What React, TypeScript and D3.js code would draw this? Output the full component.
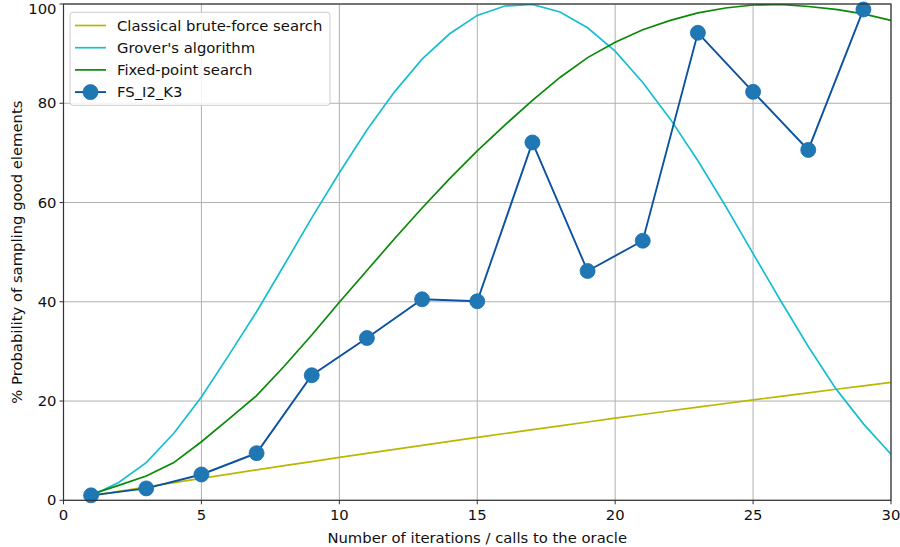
import React from "react";
import * as d3 from "d3";

const iterations = d3.range(1, 31);
const classical = [0.90, 1.79, 2.68, 3.55, 4.42, 5.28, 6.13, 6.97, 7.81, 8.64, 9.46, 10.27, 11.08, 11.88, 12.67, 13.46, 14.24, 15.01, 15.78, 16.54, 17.29, 18.04, 18.77, 19.50, 20.23, 20.95, 21.66, 22.37, 23.07, 23.76];
const grover = [0.9, 3.6, 7.6, 13.5, 20.8, 29.3, 38.0, 47.4, 56.9, 66.0, 74.6, 82.3, 88.9, 94.0, 97.7, 99.6, 99.9, 98.4, 95.2, 90.5, 84.2, 76.8, 68.4, 59.3, 49.7, 40.2, 31.0, 22.5, 15.4, 9.3];
const fixedPoint = [1.2, 3.0, 4.9, 7.6, 11.8, 16.4, 21.1, 27.0, 33.3, 39.9, 46.3, 52.7, 58.9, 64.8, 70.4, 75.6, 80.6, 85.2, 89.2, 92.3, 94.8, 96.7, 98.2, 99.2, 99.8, 99.9, 99.5, 98.9, 98.0, 96.7];
const fsIters = [1, 3, 5, 7, 9, 11, 13, 15, 17, 19, 21, 23, 25, 27, 29];
const fsValues = [1.0, 2.4, 5.2, 9.5, 25.2, 32.7, 40.5, 40.1, 72.1, 46.2, 52.3, 94.2, 82.3, 70.6, 98.9];
const xTicks = [0, 5, 10, 15, 20, 25, 30];
const yTicks = [0, 20, 40, 60, 80, 100];
const legendLabels = ["Classical brute-force search", "Grover's algorithm", "Fixed-point search", "FS_I2_K3"];

const W = 900, H = 547;
const L = 63.5, R = 891, T = 4, B = 500.3;
const FONT = "DejaVu Sans, sans-serif";
const FS = 14.8;

export default function App() {
  const x = d3.scaleLinear().domain([0, 30]).range([L, R]);
  const y = d3.scaleLinear().domain([0, 100]).range([B, T]);
  const line = d3.line<[number, number]>().x(d => x(d[0])).y(d => y(d[1]));
  const mk = (vals: number[], xs: number[]) => line(xs.map((xi, i) => [xi, vals[i]] as [number, number])) || "";

  const curves = [
    { vals: classical, color: "#b8b800" },
    { vals: grover, color: "#17becf" },
    { vals: fixedPoint, color: "#078a07" },
  ];
  const blueLine = "#0b52a1";
  const blueFill = "#1f77b4";

  return (
    <svg width={W} height={H} style={{ position: "absolute", left: 0, top: 0, background: "#fff" }} fontFamily={FONT}>
      <defs>
        <clipPath id="plot"><rect x={L} y={T} width={R - L} height={B - T} /></clipPath>
      </defs>
      {xTicks.map(t => (
        <line key={"gx" + t} x1={x(t)} x2={x(t)} y1={T} y2={B} stroke="#b0b0b0" strokeWidth={1} />
      ))}
      {yTicks.map(t => (
        <line key={"gy" + t} x1={L} x2={R} y1={y(t)} y2={y(t)} stroke="#b0b0b0" strokeWidth={1} />
      ))}
      <g clipPath="url(#plot)">
        {curves.map((c, i) => (
          <path key={i} d={mk(c.vals, iterations)} fill="none" stroke={c.color} strokeWidth={1.7} />
        ))}
        <path d={mk(fsValues, fsIters)} fill="none" stroke={blueLine} strokeWidth={1.9} />
      </g>
      {fsIters.map((xi, i) => (
        <circle key={"m" + i} cx={x(xi)} cy={y(fsValues[i])} r={7.5} fill={blueFill} stroke="#1a6fae" strokeWidth={0.8} />
      ))}
      <rect x={L} y={T} width={R - L} height={B - T} fill="none" stroke="#333" strokeWidth={1.2} />
      {xTicks.map(t => (
        <g key={"tx" + t}>
          <line x1={x(t)} x2={x(t)} y1={B} y2={B + 4} stroke="#333" strokeWidth={1} />
          <text x={x(t)} y={B + 20} textAnchor="middle" fontSize={FS} fill="#111">{t}</text>
        </g>
      ))}
      {yTicks.map(t => (
        <g key={"ty" + t}>
          <line x1={L - 4} x2={L} y1={y(t)} y2={y(t)} stroke="#333" strokeWidth={1} />
          <text x={L - 7} y={Math.max(y(t), 8.5)} dy="0.35em" textAnchor="end" fontSize={FS} fill="#111">{t}</text>
        </g>
      ))}
      <text x={(L + R) / 2} y={543} textAnchor="middle" fontSize={FS} fill="#111">Number of iterations / calls to the oracle</text>
      <text transform={`translate(${17},${(T + B) / 2}) rotate(-90)`} textAnchor="middle" dy="0.35em" fontSize={FS} fill="#111">% Probability of sampling good elements</text>
      <rect x={70} y={12.3} width={260} height={93} rx={3} fill="#fff" fillOpacity={0.85} stroke="#cccccc" strokeWidth={1} />
      {legendLabels.map((lab, i) => {
        const ly = 25.5 + i * 22.2;
        const color = i < 3 ? curves[i].color : blueLine;
        return (
          <g key={"lg" + i}>
            <line x1={75} x2={106} y1={ly} y2={ly} stroke={color} strokeWidth={i < 3 ? 1.7 : 1.9} />
            {i === 3 && <circle cx={90.5} cy={ly} r={7.5} fill={blueFill} stroke="#1a6fae" strokeWidth={0.8} />}
            <text x={117} y={ly} dy="0.35em" fontSize={FS} fill="#111">{lab}</text>
          </g>
        );
      })}
    </svg>
  );
}
